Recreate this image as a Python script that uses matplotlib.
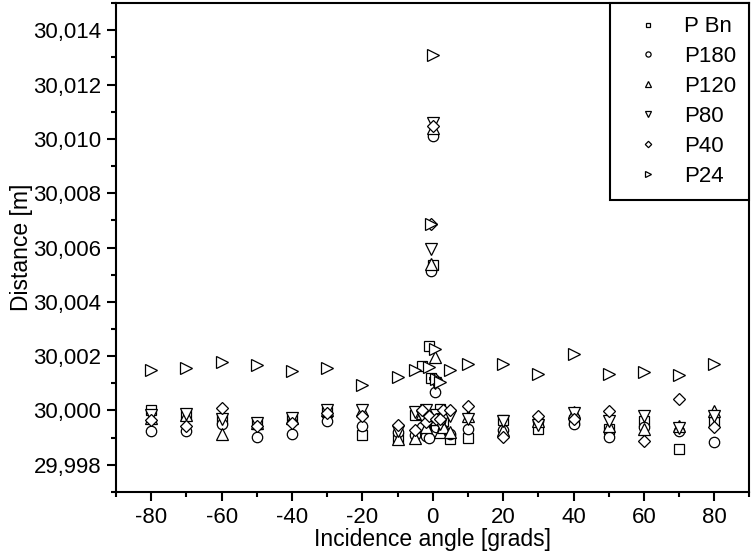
"""
Distance measured vs incidence angle for six targets (P Bn ... P24).
Output: out.png
"""
import numpy as np
import matplotlib
matplotlib.use("Agg")
import matplotlib.pyplot as plt
from matplotlib.ticker import FuncFormatter, MultipleLocator

plt.rcParams["font.family"] = ["Liberation Sans", "DejaVu Sans"]
plt.rcParams["axes.unicode_minus"] = False

nan = np.nan

# incidence angles [grads]
ANGLES = [-80, -70, -60, -50, -40, -30, -20, -10,
          -5, -3, -2, -1, -0.5, 0, 0.5, 1, 2, 3, 5,
          10, 20, 30, 40, 50, 60, 70, 80]

# measured distances [m]
P_BN = [30.00003, 29.99985, 29.99970, 29.99950, 29.99970, 29.99995, 29.99910, 29.99900,
        29.99985, 30.00165, 29.99980, 30.00237, 30.00120, 30.00537, 29.99950, 29.99920, 30.00006, 29.99960, 29.99895,
        29.99900, 29.99965, 29.99932, 29.99965, 29.99932, 29.99960, 29.99858, 29.99957]
P180 = [29.99926, 29.99926, 29.99951, 29.99901, 29.99914, 29.99963, 29.99944, 29.99920,
        29.99910, 29.99940, 29.99907, 29.99900, 30.00515, 30.01012, 30.00068, 29.99940, 29.99960, 29.99930, 29.99915,
        29.99932, 29.99930, 29.99960, 29.99951, 29.99901, 29.99940, 29.99926, 29.99885]
P120 = [29.99972, 29.99985, 29.99914, 29.99953, 29.99972, 30.00000, 30.00000, 29.99895,
        29.99900, 29.99990, 29.99940, 29.99970, 30.00540, 30.01040, 30.00197, 29.99970, 29.99920, 29.99940, 29.99920,
        29.99980, 29.99930, 29.99960, 29.99994, 29.99944, 29.99933, 29.99944, 29.99997]
P80 = [29.99985, 29.99988, 29.99969, 29.99953, 29.99972, 30.00000, 30.00000, 29.99926,
       29.99994, 29.99980, 30.00000, 29.99960, 30.00593, 30.01060, 30.00100, 29.99985, 29.99950, 29.99970, 29.99980,
       29.99970, 29.99963, 29.99945, 29.99990, 29.99963, 29.99981, 29.99937, 29.99978]
P40 = [29.99966, 29.99944, 30.00010, 29.99944, 29.99954, 29.99990, 29.99980, 29.99948,
       29.99930, 30.00000, 29.99957, 29.99980, 30.00685, 30.01049, 30.00117, 29.99970, 29.99970, 30.00000, 30.00000,
       30.00015, 29.99901, 29.99981, 29.99969, 29.99997, 29.99889, 30.00043, 29.99941]
P24 = [30.00148, 30.00156, 30.00178, 30.00167, 30.00144, 30.00156, 30.00093, 30.00123,
       30.00150, nan, nan, 30.00160, 30.00685, 30.01307, 30.00228, 30.00117, 30.00105, nan, 30.00148,
       30.00170, 30.00170, 30.00133, 30.00207, 30.00133, 30.00142, 30.00130, 30.00170]

SERIES = [
    ("P Bn", P_BN, "s", 6.5),
    ("P180", P180, "o", 7.5),
    ("P120", P120, "^", 8.5),
    ("P80", P80, "v", 8.5),
    ("P40", P40, "D", 6.5),
    ("P24", P24, ">", 8.5),
]


def comma(v, pos):
    return f"{v:.3f}".replace(".", ",")


def main():
    fig = plt.figure(figsize=(7.51, 5.58), dpi=100)
    ax = fig.add_axes([0.1545, 0.1183, 0.8435, 0.8763])

    for name, vals, mk, ms in SERIES:
        ax.plot(ANGLES, vals, linestyle="none", marker=mk, ms=ms, mfc="white",
                mec="black", mew=0.9, label=name)

    ax.set_xlim(-90, 90)
    ax.set_ylim(29.997, 30.015)
    ax.xaxis.set_major_locator(MultipleLocator(20))
    ax.xaxis.set_minor_locator(MultipleLocator(10))
    ax.yaxis.set_major_locator(MultipleLocator(0.002))
    ax.yaxis.set_minor_locator(MultipleLocator(0.001))
    ax.yaxis.set_major_formatter(FuncFormatter(comma))

    for sp in ax.spines.values():
        sp.set_linewidth(1.5)
    ax.tick_params(which="major", direction="out", length=6.5, width=1.5, labelsize=16, pad=4)
    ax.tick_params(which="minor", direction="out", length=3.5, width=1.5)

    ax.set_xlabel("Incidence angle [grads]", fontsize=16.5, labelpad=0)
    ax.set_ylabel("Distance [m]", fontsize=16.5, labelpad=0)

    leg = ax.legend(loc="upper right", borderaxespad=0, fontsize=16, markerscale=0.5,
                    fancybox=False, edgecolor="black", framealpha=1,
                    labelspacing=0.4, handlelength=2.25, handletextpad=0.5, borderpad=0.6)
    leg.get_frame().set_linewidth(1.5)

    fig.savefig("out.png", dpi=100)


if __name__ == "__main__":
    main()
